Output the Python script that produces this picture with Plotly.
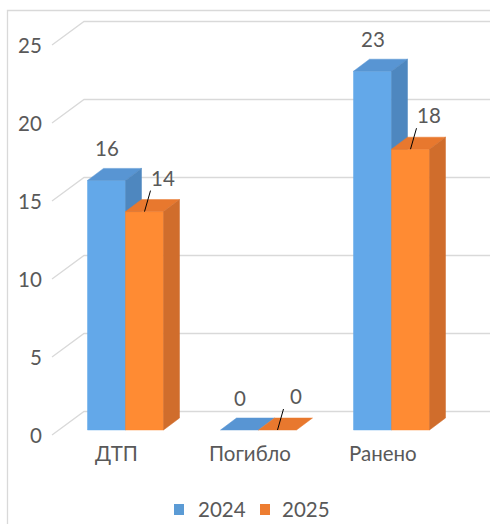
import plotly.graph_objects as go

# ---- data ----
categories = ["ДТП", "Погибло", "Ранено"]
series_names = ["2024", "2025"]
values_2024 = [16, 0, 23]
values_2025 = [14, 0, 18]
y_ticks = [0, 5, 10, 15, 20, 25]

# ---- styling / geometry constants ----
W, H = 490, 524
X_C0 = 125.5      # pixel of first category group centre
X_S = 133.0       # pixels per category step
Y0 = 430.0        # pixel of value 0 on bar front plane
Y_S = 15.6        # pixels per value unit
BAR_W_PX = 38
DEPTH_DX, DEPTH_DY = 16, 12
FRONT_OFF_PX = 5      # front floor edge below bar plane
BACK_OFF_PX = 18.5    # back wall above bar plane
GRID_FRONT_X_PX, GRID_BACK_X_PX = 52, 84

FONT = "Lato"
FS = 20.5
TXT = "#595959"
GRID = "#d9d9d9"
colors = {
    "2024": dict(front="#63A8E9", top="#5895D3", side="#4E87BF", legend="#5B9BD5"),
    "2025": dict(front="#FF8B33", top="#E8782E", side="#D06D2C", legend="#ED7D31"),
}

def ux(px):  # pixel length -> x data units
    return px / X_S

def uy(px):  # pixel length -> y data units (upwards)
    return px / Y_S

def xpx(px):  # absolute pixel -> x data
    return (px - X_C0) / X_S

xrange = [xpx(0), xpx(W)]
yrange = [(Y0 - H) / Y_S, Y0 / Y_S]

fig = go.Figure()

# gridlines: front diagonal + back wall
gx, gy = [], []
for t in y_ticks:
    gx += [xpx(GRID_FRONT_X_PX), xpx(GRID_BACK_X_PX), xpx(W + 20), None]
    gy += [t - uy(FRONT_OFF_PX), t + uy(BACK_OFF_PX), t + uy(BACK_OFF_PX), None]
fig.add_trace(go.Scatter(x=gx, y=gy, mode="lines", line=dict(color=GRID, width=1.3),
                         hoverinfo="skip", showlegend=False))

bw = ux(BAR_W_PX)
ddx, ddy = ux(DEPTH_DX), uy(DEPTH_DY)

def add_faces(vals, offset_units, c):
    fx, fy, tx, ty, sx, sy = [], [], [], [], [], []
    for i, v in enumerate(vals):
        xl = i + offset_units
        xr = xl + bw
        if v > 0:
            fx += [xl, xr, xr, xl, xl, None]
            fy += [0, 0, v, v, 0, None]
            sx += [xr, xr + ddx, xr + ddx, xr, xr, None]
            sy += [0, ddy, v + ddy, v, 0, None]
        tx += [xl, xr, xr + ddx, xl + ddx, xl, None]
        ty += [v, v, v + ddy, v + ddy, v, None]
    for xs, ys, col in ((fx, fy, c["front"]), (tx, ty, c["top"]), (sx, sy, c["side"])):
        if xs:
            fig.add_trace(go.Scatter(x=xs, y=ys, mode="lines", fill="toself",
                                     fillcolor=col, line=dict(color=col, width=0.5),
                                     hoverinfo="skip", showlegend=False))

add_faces(values_2024, -bw, colors["2024"])
add_faces(values_2025, 0, colors["2025"])

annotations = []
# data labels
for i, v in enumerate(values_2024):
    annotations.append(dict(x=i - bw / 2, y=v, xref="x", yref="y", text=str(v),
                            showarrow=False, yshift=32, font=dict(family=FONT, size=FS, color=TXT)))
lx, ly = [], []
for i, v in enumerate(values_2025):
    xc = i + bw / 2
    annotations.append(dict(x=xc, y=v, xref="x", yref="y", text=str(v),
                            showarrow=False, xshift=18, yshift=34,
                            font=dict(family=FONT, size=FS, color=TXT)))
    lx += [xc, xc + ux(6), None]
    ly += [v, v + uy(21), None]
fig.add_trace(go.Scatter(x=lx, y=ly, mode="lines", line=dict(color="black", width=1),
                         hoverinfo="skip", showlegend=False))

# category labels
for i, c in enumerate(categories):
    annotations.append(dict(x=i, y=0, xref="x", yref="y", text=c, showarrow=False,
                            xshift=-9, yshift=-23, font=dict(family=FONT, size=FS, color=TXT)))
# y tick labels
for t in y_ticks:
    annotations.append(dict(x=xpx(44), y=t, xref="x", yref="y", text=str(t), showarrow=False,
                            xanchor="right", yshift=-FRONT_OFF_PX,
                            font=dict(family=FONT, size=FS, color=TXT)))

shapes = []
# chart border
shapes.append(dict(type="rect", xref="paper", yref="paper", x0=7.5 / W, x1=1.2,
                   y0=-0.2, y1=1 - 10.5 / H, line=dict(color=GRID, width=1.3)))
# legend (manual)
leg_items = [("2024", 174, 196), ("2025", 260, 280)]
for name, sq_x, tx_x in leg_items:
    shapes.append(dict(type="rect", xref="paper", yref="paper",
                       x0=sq_x / W, x1=(sq_x + 10) / W, y0=1 - 515 / H, y1=1 - 504 / H,
                       fillcolor=colors[name]["legend"], line=dict(width=0)))
    annotations.append(dict(x=tx_x / W, y=1 - 509 / H, xref="paper", yref="paper",
                            text=name, showarrow=False, xanchor="left", yanchor="middle",
                            font=dict(family=FONT, size=FS, color=TXT)))

fig.update_layout(
    width=W, height=H,
    margin=dict(l=0, r=0, t=0, b=0),
    paper_bgcolor="white", plot_bgcolor="white",
    xaxis=dict(range=xrange, visible=False, fixedrange=True),
    yaxis=dict(range=yrange, visible=False, fixedrange=True),
    showlegend=False,
    annotations=annotations, shapes=shapes,
)

fig.write_html("out.html", config={"displayModeBar": False},
               post_script="document.body.style.margin='0';document.body.style.overflow='hidden';")
